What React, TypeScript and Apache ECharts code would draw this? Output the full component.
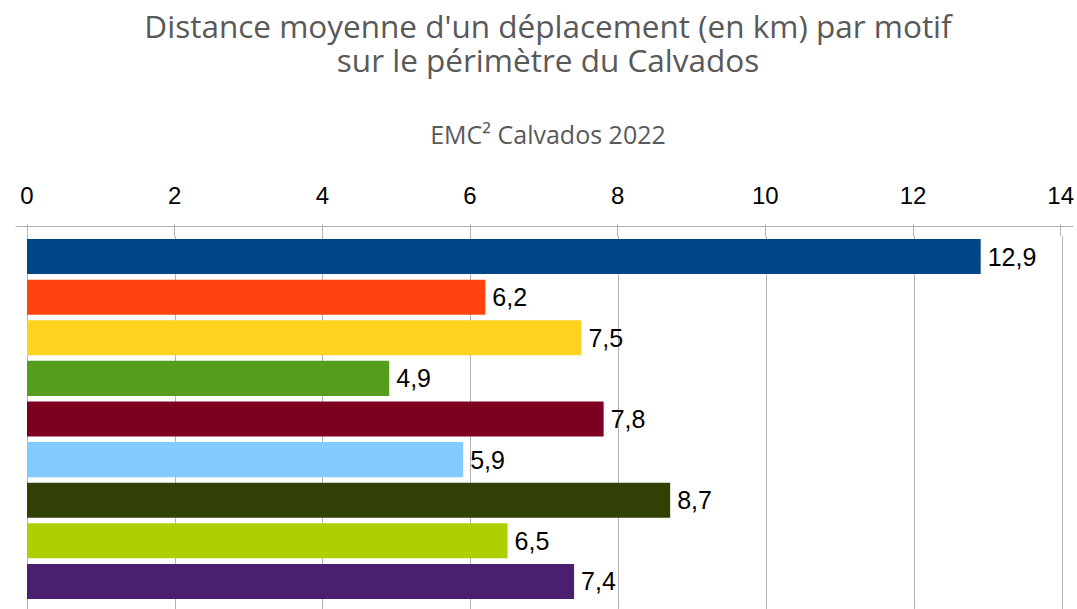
import React, { useEffect, useRef } from "react";
import * as echarts from "echarts";

const titleLines = [
  "Distance moyenne d'un déplacement (en km) par motif",
  "sur le périmètre du Calvados",
];
const subtitle = "EMC² Calvados 2022";
const categories = ["Motif 1", "Motif 2", "Motif 3", "Motif 4", "Motif 5", "Motif 6", "Motif 7", "Motif 8", "Motif 9"];
const values = [12.9, 6.2, 7.5, 4.9, 7.8, 5.9, 8.7, 6.5, 7.4];
const barColors = ["#004586", "#ff420e", "#ffd320", "#579d1c", "#7e0021", "#83caff", "#314004", "#aecf00", "#4b1f6f"];
const axisMin = 0;
const axisMax = 14;
const axisStep = 2;

export default function App() {
  const ref = useRef<HTMLDivElement>(null);
  useEffect(() => {
    const chart = echarts.init(ref.current!, null, { renderer: "svg" });
    const gridColor = "#b3b3b3";
    const titleStyle = { fontFamily: "Open Sans", fontSize: 31.5, fontWeight: "normal", color: "#595959", lineHeight: 32 };
    const gridLineOnly = (gridIndex: number) => ({
      gridIndex,
      type: "value",
      min: axisMin,
      max: axisMax,
      interval: axisStep,
      axisLine: { show: false },
      axisTick: { show: false },
      axisLabel: { show: false },
      splitLine: { show: true, lineStyle: { color: gridColor, width: 1 } },
    });
    chart.setOption({
      animation: false,
      backgroundColor: "#ffffff",
      title: [
        { text: titleLines[0], left: 543, top: 4, textAlign: "center", textStyle: titleStyle },
        { text: titleLines[1], left: 543, top: 38, textAlign: "center", textStyle: titleStyle },
        {
          text: subtitle,
          left: 543,
          top: 116,
          textAlign: "center",
          textStyle: { fontFamily: "Open Sans", fontSize: 25, fontWeight: "normal", color: "#595959" },
        },
      ],
      grid: [
        { left: 27, right: 15, top: 236.2, height: 365.6 },
        { left: 27, right: 15, top: 225, height: 11.2 },
        { left: 27, right: 15, top: 601.8, height: 30 },
        { left: 16, right: 4, top: 225, height: 1 },
      ],
      xAxis: [
        gridLineOnly(0),
        {
          gridIndex: 1,
          type: "value",
          position: "top",
          min: axisMin,
          max: axisMax,
          interval: axisStep,
          axisLine: { show: false },
          axisTick: { show: true, length: 12, lineStyle: { color: gridColor, width: 1 } },
          axisLabel: { fontFamily: "Liberation Sans", fontSize: 24, color: "#000000", margin: 18 },
          splitLine: { show: true, lineStyle: { color: gridColor, width: 1 } },
        },
        gridLineOnly(2),
        {
          gridIndex: 3,
          type: "value",
          position: "top",
          min: axisMin,
          max: axisMax,
          axisLine: { show: true, lineStyle: { color: gridColor, width: 1 } },
          axisTick: { show: false },
          axisLabel: { show: false },
          splitLine: { show: false },
        },
      ],
      yAxis: [
        { gridIndex: 0, type: "category", data: categories, inverse: true, show: false },
        { gridIndex: 1, type: "value", show: false },
        { gridIndex: 2, type: "value", show: false },
        { gridIndex: 3, type: "value", show: false },
      ],
      series: [
        {
          type: "bar",
          xAxisIndex: 0,
          yAxisIndex: 0,
          barCategoryGap: "13.8%",
          data: values.map((v, i) => ({ value: v, itemStyle: { color: barColors[i] } })),
          label: {
            show: true,
            position: "right",
            distance: 7,
            formatter: (p: any) => String(p.value).replace(".", ","),
            fontFamily: "Liberation Sans",
            fontSize: 25,
            color: "#000000",
          },
        },
      ],
    });
    return () => chart.dispose();
  }, []);
  return <div ref={ref} style={{ position: "fixed", left: 0, top: 0, width: 1077, height: 609 }} />;
}
